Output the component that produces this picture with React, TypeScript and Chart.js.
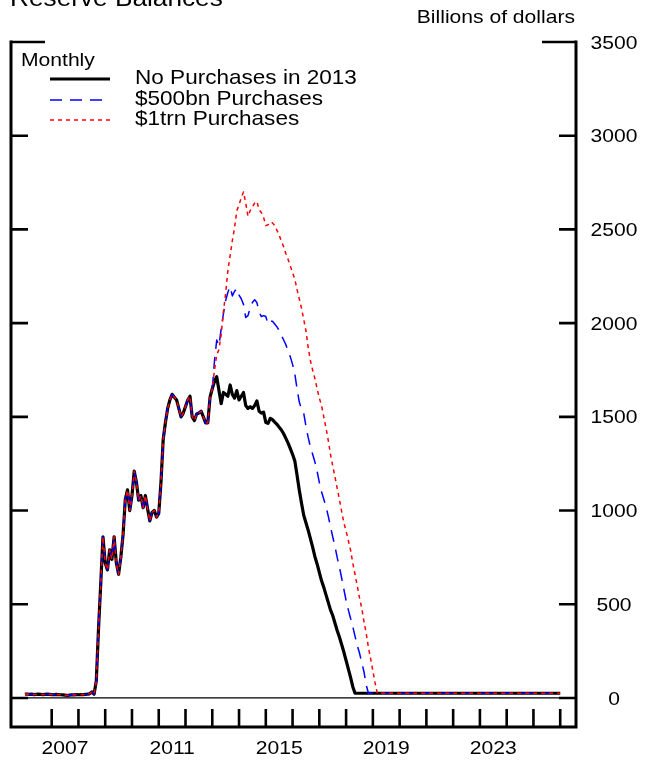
import { useEffect, useRef } from "react";
import { Chart, registerables } from "chart.js";

Chart.register(...registerables);

// ---- data (billions of dollars, monthly) ----
const START_YEAR = 2006; // first monthly observation: Jan 2006
const END_YEAR = 2026; // last plotted date
const FLOOR = 25;

// Jan 2006 .. Jan 2013 (common history)
const HISTORY = [
  20, 21, 19, 20, 18, 19, 20, 19, 18, 19, 20, 19,
  18, 17, 19, 18, 17, 16, 15, 13, 15, 17, 16, 18,
  17, 18, 17, 19, 20, 22, 32, 20, 90, 370, 610, 860,
  720, 683, 790, 740, 860, 720, 660, 750, 870, 1060, 1110, 1000,
  1080, 1210, 1150, 1055, 1080, 1015, 1080, 1010, 945, 990, 1000, 965,
  985, 1150, 1380, 1470, 1545, 1590, 1620, 1605, 1590, 1545, 1500, 1520,
  1555, 1590, 1610, 1500, 1480, 1515, 1520, 1530, 1500, 1468, 1468, 1605,
  1650,
];

// Feb 2013 onward
const NO_PURCHASES = [
  1690, 1714, 1640, 1570, 1630, 1620, 1610, 1670, 1620, 1600, 1640, 1590,
  1610, 1630, 1560, 1545, 1554, 1545, 1560, 1585, 1530, 1520, 1525, 1470,
  1465, 1492, 1485, 1472, 1460, 1445, 1430, 1410, 1385, 1360, 1330, 1300,
  1265, 1190, 1110, 1040, 975, 935, 895, 850, 805, 755, 715, 670,
  625, 590, 550, 510, 470, 440, 400, 360, 325, 285, 245, 200,
  155, 110, 60, 25,
];

const PURCHASES_500BN = [
  1800, 1910, 1880, 1970, 2050, 2120, 2165, 2195, 2145, 2170, 2185, 2150,
  2130, 2100, 2030, 2040, 2080, 2110, 2125, 2110, 2060, 2035, 2040, 2035,
  1995, 2010, 2010, 1995, 1980, 1960, 1935, 1910, 1885, 1850, 1820, 1780,
  1730, 1650, 1580, 1540, 1520, 1450, 1390, 1340, 1300, 1260, 1210, 1150,
  1100, 1060, 1020, 970, 915, 860, 810, 750, 700, 640, 580, 520,
  470, 425, 380, 330, 280, 240, 190, 140, 70, 25,
];

const PURCHASES_1TRN = [
  1750, 1830, 1860, 1940, 2060, 2160, 2280, 2360, 2440, 2510, 2600, 2630,
  2670, 2700, 2640, 2570, 2600, 2620, 2640, 2650, 2605, 2590, 2565, 2520,
  2525, 2540, 2535, 2520, 2495, 2470, 2435, 2408, 2370, 2340, 2305, 2270,
  2235, 2180, 2130, 2080, 2020, 1960, 1870, 1800, 1750, 1705, 1650, 1600,
  1560, 1500, 1440, 1375, 1300, 1240, 1180, 1120, 1060, 995, 935, 890,
  840, 790, 720, 660, 600, 535, 480, 410, 345, 270, 210, 145,
  80, 25,
];

const SERIES_NAMES = ["No Purchases in 2013", "$500bn Purchases", "$1trn Purchases"];
const Y_TICKS = [0, 500, 1000, 1500, 2000, 2500, 3000, 3500];
const X_TICK_YEARS = [
  2007, 2008, 2009, 2010, 2011, 2012, 2013, 2014, 2015, 2016,
  2017, 2018, 2019, 2020, 2021, 2022, 2023, 2024, 2025, 2026,
];
const X_LABEL_YEARS = [2007, 2011, 2015, 2019, 2023];
const TITLE = "Reserve Balances";
const UNITS = "Billions of dollars";
const FREQ = "Monthly";

function buildSeries(projection: number[]) {
  const vals = HISTORY.concat(projection);
  const pts = vals.map((v, i) => ({ x: START_YEAR + i / 12, y: v }));
  pts.push({ x: END_YEAR, y: FLOOR });
  return pts;
}

const FONT = '"Liberation Sans", Arial, Helvetica, sans-serif';
const SX = 1.14;

function drawText(
  ctx: CanvasRenderingContext2D,
  s: string,
  x: number,
  y: number,
  align: "left" | "center" | "right",
  size: number,
  baseline: CanvasTextBaseline = "middle"
) {
  ctx.save();
  ctx.font = `${size}px ${FONT}`;
  ctx.textBaseline = baseline;
  ctx.textAlign = "left";
  ctx.fillStyle = "#000";
  const w = ctx.measureText(s).width * SX;
  const x0 = align === "center" ? x - w / 2 : align === "right" ? x - w : x;
  ctx.translate(x0, y);
  ctx.scale(SX, 1);
  ctx.fillText(s, 0, 0);
  ctx.restore();
}

const framePlugin = {
  id: "frame",
  afterDraw(chart: any) {
    const ctx: CanvasRenderingContext2D = chart.ctx;
    const { left, right, top, bottom } = chart.chartArea;
    const xs = chart.scales.x;
    const ys = chart.scales.y;
    ctx.save();
    ctx.strokeStyle = "#000";
    ctx.lineCap = "butt";

    // zero line
    const y0 = ys.getPixelForValue(0);
    ctx.lineWidth = 1.3;
    ctx.beginPath();
    ctx.moveTo(left, y0);
    ctx.lineTo(right, y0);
    ctx.stroke();

    // frame
    ctx.lineWidth = 3;
    ctx.beginPath();
    ctx.moveTo(left, top - 1.5);
    ctx.lineTo(left, bottom);
    ctx.lineTo(right, bottom);
    ctx.lineTo(right, top - 1.5);
    ctx.stroke();

    // y ticks (inward, both sides)
    ctx.lineWidth = 2.6;
    Y_TICKS.forEach((v) => {
      const y = ys.getPixelForValue(v);
      const len = v === 3500 ? 34 : 17;
      ctx.beginPath();
      ctx.moveTo(left, y);
      ctx.lineTo(left + len, y);
      ctx.moveTo(right, y);
      ctx.lineTo(right - len, y);
      ctx.stroke();
      drawText(ctx, String(v), 614, y + 1.5, "center", 18.5);
    });

    // x ticks (upward from bottom)
    X_TICK_YEARS.forEach((yr) => {
      const x = xs.getPixelForValue(yr);
      ctx.beginPath();
      ctx.moveTo(x, bottom);
      ctx.lineTo(x, bottom - 18);
      ctx.stroke();
    });
    X_LABEL_YEARS.forEach((yr) => {
      const x = xs.getPixelForValue(yr + 0.5);
      drawText(ctx, String(yr), x, 749, "center", 18.5);
    });

    // titles
    drawText(ctx, TITLE, 10, 6, "left", 23, "alphabetic");
    drawText(ctx, UNITS, 575, 18, "right", 18.5);
    drawText(ctx, FREQ, 21, 61, "left", 18.5);

    // legend
    const ds = chart.data.datasets;
    const rows = [79, 100, 120];
    const lens = [60, 54, 60];
    ds.forEach((d: any, i: number) => {
      ctx.save();
      ctx.strokeStyle = d.borderColor;
      ctx.lineWidth = d.borderWidth;
      ctx.setLineDash(d.borderDash || []);
      ctx.beginPath();
      ctx.moveTo(50, rows[i]);
      ctx.lineTo(50 + lens[i], rows[i]);
      ctx.stroke();
      ctx.restore();
      drawText(ctx, d.label, 135, rows[i], "left", 19.8);
    });

    ctx.restore();
  },
};

export default function App() {
  const ref = useRef<HTMLCanvasElement | null>(null);

  useEffect(() => {
    if (!ref.current) return;
    const chart = new Chart(ref.current, {
      type: "line",
      data: {
        datasets: [
          {
            label: SERIES_NAMES[0],
            data: buildSeries(NO_PURCHASES),
            borderColor: "#000000",
            borderWidth: 3.2,
            borderDash: [],
            order: 3,
          },
          {
            label: SERIES_NAMES[1],
            data: buildSeries(PURCHASES_500BN),
            borderColor: "#0000ff",
            borderWidth: 1.5,
            borderDash: [12, 8],
            order: 2,
          },
          {
            label: SERIES_NAMES[2],
            data: buildSeries(PURCHASES_1TRN),
            borderColor: "#ff0000",
            borderWidth: 1.5,
            borderDash: [4, 4],
            order: 1,
          },
        ] as any,
      },
      options: {
        responsive: false,
        animation: false,
        layout: { padding: { left: 11, right: 77, top: 42, bottom: 34 } },
        elements: {
          point: { radius: 0 },
          line: { tension: 0, borderJoinStyle: "round", borderCapStyle: "butt" },
        },
        scales: {
          x: { type: "linear", min: 2005.48, max: 2026.59, display: false },
          y: { type: "linear", min: -155, max: 3500, display: false },
        },
        plugins: {
          legend: { display: false },
          tooltip: { enabled: false },
        },
      },
      plugins: [framePlugin],
    });
    return () => chart.destroy();
  }, []);

  return (
    <div style={{ position: "absolute", left: 0, top: 0, width: 653, height: 761, background: "#fff" }}>
      <canvas ref={ref} width={653} height={761} style={{ width: 653, height: 761 }} />
    </div>
  );
}
